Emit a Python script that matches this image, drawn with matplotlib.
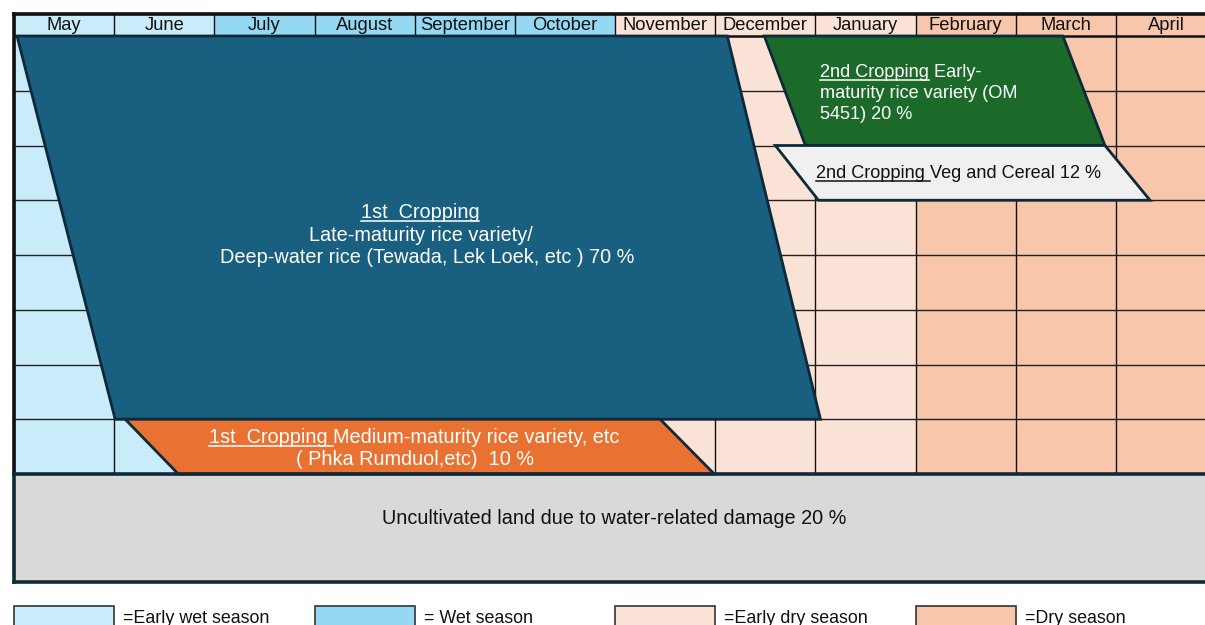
import matplotlib
matplotlib.use("Agg")
import matplotlib.pyplot as plt
from matplotlib.patches import Polygon, Rectangle
from matplotlib import transforms

plt.rcParams['font.family'] = ['Liberation Sans', 'DejaVu Sans']

# ---------------- data ----------------
months = ["May", "June", "July", "August", "September", "October",
          "November", "December", "January", "February", "March", "April"]
# season index per month: 0 early wet, 1 wet, 2 early dry, 3 dry
month_season = [0, 0, 1, 1, 1, 1, 2, 2, 2, 3, 3, 3]
season_labels = ["=Early wet season", "= Wet season", "=Early dry season", "=Dry season"]
season_colors = ["#c9ecfa", "#95d8f4", "#fbe2d6", "#f7c6ab"]
legend_slots = [0, 3, 6, 9]          # month column where each legend swatch sits
n_rows = 8                           # grid rows of the calendar

# cropping blocks: polygon corners in (month, row) units
blocks = {
    "late":  [(0.03, 0), (7.12, 0), (8.05, 7), (1.01, 7)],
    "med":   [(1.11, 7), (6.45, 7), (6.99, 8), (1.64, 8)],
    "early": [(7.49, 0), (10.47, 0), (10.89, 2), (7.90, 2)],
    "veg":   [(7.60, 2), (10.89, 2), (11.34, 3), (8.03, 3)],
}
block_colors = {"late": "#185f80", "med": "#e97132", "early": "#1b6a29", "veg": "#f0f0f0"}
edge_color = "#0e2a38"

# ---------------- figure ----------------
W, H = 1205, 625
fig = plt.figure(figsize=(W / 100, H / 100), dpi=100)
ax = fig.add_axes([0, 0, 1, 1])
colw, rowh = 100.18, 54.75
x0px, y0px = 14, 36
ax.set_xlim(-x0px / colw, (W - x0px) / colw)
ax.set_ylim((H - y0px) / rowh, -y0px / rowh)
ax.axis('off')

hdr_top = -22 / rowh
# header + grid cells
for i, m in enumerate(months):
    c = season_colors[month_season[i]]
    ax.add_patch(Rectangle((i, hdr_top), 1, -hdr_top, facecolor=c, edgecolor='none', zorder=1))
    ax.add_patch(Rectangle((i, 0), 1, n_rows, facecolor=c, edgecolor='none', zorder=1))
    ax.text(i + 0.5, -6 / rowh, m, ha='center', va='baseline', fontsize=13.2, color='#111111', zorder=5)

# grid lines
for i in range(len(months) + 1):
    ax.plot([i, i], [hdr_top, n_rows], color='#111111', lw=1.0, zorder=2)
for r in range(1, n_rows):
    ax.plot([0, 12], [r, r], color='#222222', lw=1.0, zorder=2)
ax.plot([0, 12], [hdr_top, hdr_top], color='#111111', lw=2.6, zorder=3)
ax.plot([0, 12], [0, 0], color='#111111', lw=1.8, zorder=3)
ax.plot([0, 0], [hdr_top, n_rows], color='#111111', lw=2.6, zorder=3)

# uncultivated land box
gray_bottom = (582 - y0px) / rowh
ax.add_patch(Rectangle((0, n_rows), 12.5, gray_bottom - n_rows, facecolor='#d9d9d9',
                       edgecolor='none', zorder=2))
ax.plot([0, 12.5], [n_rows, n_rows], color=edge_color, lw=2.6, zorder=6)
ax.plot([0, 12.5], [gray_bottom, gray_bottom], color=edge_color, lw=2.6, zorder=6)
ax.plot([0, 0], [n_rows, gray_bottom], color=edge_color, lw=2.6, zorder=6)

# cropping polygons
for k, pts in blocks.items():
    ax.add_patch(Polygon(pts, closed=True, facecolor=block_colors[k], edgecolor=edge_color,
                         lw=2.0, zorder=4, joinstyle='miter'))

# legend
leg_top = (606 - y0px) / rowh
for j, s in enumerate(season_labels):
    sx = legend_slots[j]
    ax.add_patch(Rectangle((sx, leg_top), 1, 2, facecolor=season_colors[j],
                           edgecolor='#333333', lw=1.2, zorder=3))
    ax.text(sx + 1.09, (623 - y0px) / rowh, s, ha='left', va='baseline', fontsize=12.9,
            color='#111111')

# ---------------- rich text helper ----------------
fig.canvas.draw()
renderer = fig.canvas.get_renderer()


def rich_line(x, y, parts, ha, color, fs):
    objs = []
    widths = []
    for txt, _u in parts:
        t = ax.text(x, y, txt, ha='left', va='baseline', fontsize=fs, color=color, zorder=7)
        bb = t.get_window_extent(renderer)
        widths.append(bb.width)
        objs.append(t)
    total = sum(widths)
    start = 0 if ha == 'left' else -total / 2
    off = start
    bx, by = ax.transData.transform((x, y))
    for (txt, u), t, w in zip(parts, objs, widths):
        t.set_transform(transforms.offset_copy(ax.transData, fig, x=off, y=0, units='dots'))
        if u:
            p1 = ax.transData.inverted().transform((bx + off, by - 3))
            p2 = ax.transData.inverted().transform((bx + off + w, by - 3))
            ax.plot([p1[0], p2[0]], [p1[1], p2[1]], color=color, lw=1.1, zorder=7)
        off += w


def ry(px):
    return (px - y0px) / rowh


def rx(px):
    return (px - x0px) / colw


BIG = 14.3
SMALL = 13.1
rich_line(rx(420), ry(218), [("1st  Cropping", True)], 'center', 'white', BIG)
rich_line(rx(421), ry(241), [("Late-maturity rice variety/", False)], 'center', 'white', BIG)
rich_line(rx(427), ry(263), [("Deep-water rice (Tewada, Lek Loek, etc ) 70 %", False)], 'center', 'white', BIG)

rich_line(rx(414), ry(443), [("1st  Cropping ", True), ("Medium-maturity rice variety, etc", False)],
          'center', 'white', BIG)
rich_line(rx(415), ry(465), [("( Phka Rumduol,etc)  10 %", False)], 'center', 'white', BIG)

rich_line(rx(820), ry(77), [("2nd Cropping", True), (" Early-", False)], 'left', 'white', SMALL)
rich_line(rx(820), ry(98), [("maturity rice variety (OM", False)], 'left', 'white', SMALL)
rich_line(rx(820), ry(119), [("5451) 20 %", False)], 'left', 'white', SMALL)

rich_line(rx(816), ry(178), [("2nd Cropping ", True), ("Veg and Cereal 12 %", False)], 'left', '#111111', SMALL)

rich_line(rx(614), ry(524), [("Uncultivated land due to water-related damage 20 %", False)], 'center', '#111111', BIG)

fig.savefig("out.png", dpi=100)
